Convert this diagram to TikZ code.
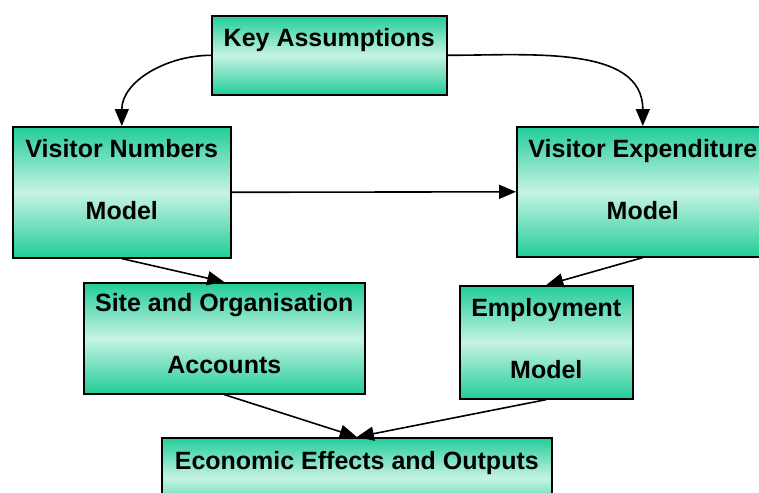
\documentclass[tikz,border=0pt]{standalone}
\usepackage{fontspec}
\setmainfont{Liberation Sans}
\usetikzlibrary{arrows.meta}
\definecolor{modelgreen}{RGB}{34,204,153}
\definecolor{modellight}{RGB}{198,243,228}
% box text: width, height, top gap, lines
\newcommand{\boxtext}[4]{\parbox[c][#2pt][t]{#1pt}{\centering\vspace*{#3pt}#4}}
\begin{document}
\begin{tikzpicture}[x=1pt, y=-1pt, box_style/.style={draw=black, line width=1.6pt, top color=modelgreen, bottom color=modelgreen, middle color=modellight, inner sep=0pt, anchor=north west, font=\bfseries\fontsize{25}{62}\selectfont}, edge_style/.style={draw=black, line width=1.6pt, -{Triangle[length=17pt,width=14pt]}}]
      \useasboundingbox (0,0) rectangle (759,492);
      \draw
        (211,15) node[box_style] (key){\boxtext{235}{79}{13}{Key Assumptions}}
        (12,126) node[box_style] (numbers){\boxtext{218}{131}{13}{Visitor Numbers\\Model}}
        (516,126) node[box_style] (expenditure){\boxtext{252}{130}{13}{Visitor Expenditure\\Model}}
        (83,282) node[box_style] (site){\boxtext{281}{111}{11}{Site and Organisation\\Accounts}}
        (459,285) node[box_style] (employment){\boxtext{173}{113}{13}{Employment\\Model}}
        (161,437) node[box_style] (economic){\boxtext{390}{80}{14}{Economic Effects and Outputs}};
      \begin{scope}[->]
        \draw[edge_style] (key.west) to[out=180, in=90] (numbers.north);
        \draw[edge_style] (key.east) to[out=0, in=90] (expenditure.north);
        \draw[edge_style] (numbers.east) to (expenditure.west);
        \draw[edge_style] (numbers.south) to (site.north);
        \draw[edge_style] (expenditure.south) to (employment.north);
        \draw[edge_style] (site.south) to (economic.north);
        \draw[edge_style] (employment.south) to (economic.north);
      \end{scope}
    \end{tikzpicture}
\end{document}
